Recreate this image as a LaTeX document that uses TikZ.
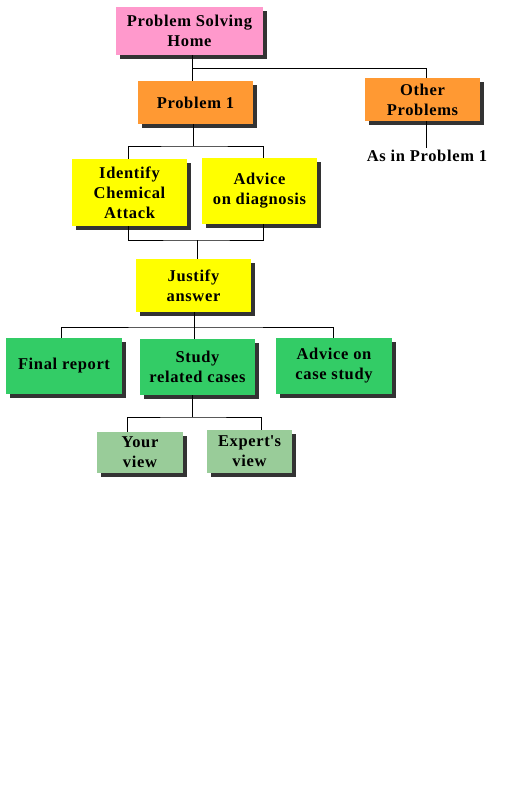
\documentclass[tikz,border=0pt]{standalone}
\usepackage{fontspec}
\setmainfont{Liberation Serif}[LetterSpace=4]
\usetikzlibrary{shadows}
\definecolor{homepink}{RGB}{255,153,204}
\definecolor{proborange}{RGB}{255,153,51}
\definecolor{taskyellow}{RGB}{255,255,0}
\definecolor{casegreen}{RGB}{51,204,102}
\definecolor{viewgreen}{RGB}{153,204,153}
\tikzset{
  wire/.style={black,line width=0.8pt},
  card/.style={fill=taskyellow,inner sep=3pt,align=center,
               font=\fontsize{16.5}{20}\selectfont\bfseries,
               drop shadow={shadow xshift=4pt,shadow yshift=-4pt,fill=black!80,opacity=1}},
  homecard/.style={card,fill=homepink},
  probcard/.style={card,fill=proborange},
  taskcard/.style={card,fill=taskyellow},
  casecard/.style={card,fill=casegreen},
  viewcard/.style={card,fill=viewgreen},
  note/.style={font=\fontsize{16.5}{20}\selectfont\bfseries,inner sep=2pt},
}

\begin{document}
\begin{tikzpicture}[x=1pt,y=-1pt]
  \path[use as bounding box,fill=white] (0,0) rectangle (504,792);

  \node[homecard,minimum width=147pt,minimum height=48pt] (HOME) at (189.5,31)
    {Problem Solving\\Home};
  \node[probcard,minimum width=115pt,minimum height=43pt] (P1) at (195.5,102.5)
    {Problem 1};
  \node[probcard,minimum width=115pt,minimum height=43pt] (OTHER) at (422.5,99.5)
    {Other\\Problems};
  \node[note,anchor=north] (ASIN) at (427,148) {As in Problem 1};

  \node[taskcard,minimum width=115pt,minimum height=67pt] (IDENT) at (129.5,192.5)
    {Identify\\Chemical\\Attack};
  \node[taskcard,minimum width=115pt,minimum height=66pt] (DIAG) at (259.5,191)
    {Advice\\on diagnosis};
  \node[taskcard,minimum width=115pt,minimum height=53pt] (JUST) at (193.5,285.5)
    {Justify\\answer};

  \node[casecard,minimum width=116pt,minimum height=56pt] (FINAL) at (64,366)
    {Final report};
  \node[casecard,minimum width=115pt,minimum height=56pt] (STUDY) at (197.5,367)
    {Study\\related cases};
  \node[casecard,minimum width=116pt,minimum height=56pt] (CASE) at (334,366)
    {Advice on\\case study};

  \node[viewcard,minimum width=86pt,minimum height=41pt] (YOUR) at (140,452.5)
    {Your\\view};
  \node[viewcard,minimum width=85pt,minimum height=43pt] (EXPERT) at (249.5,451.5)
    {Expert\textquotesingle s\\view};

  % tree junctions
  \coordinate (J1) at (192,68);
  \coordinate (J2) at (193,146);
  \coordinate (J3) at (197,240);
  \coordinate (J4) at (194,327);
  \coordinate (J5) at (192,417);
  \coordinate (J6) at (426,148);

  \draw[wire] (J1 |- HOME.south) -- (J1 |- P1.north);
  \draw[wire] (J1) -| (J6 |- OTHER.north);
  \draw[wire] (J6 |- OTHER.south) -- (J6 |- ASIN.north);

  \draw[wire] (J2 |- P1.south) -- (J2);
  \draw[wire] ([xshift=-1.5pt]IDENT.north) |- (J2) -| ([xshift=3.5pt]DIAG.north);
  \draw[wire] ([xshift=-1.5pt]IDENT.south) |- (J3) -| ([xshift=3.5pt]DIAG.south);
  \draw[wire] (J3) -- (J3 |- JUST.north);

  \draw[wire] (J4 |- JUST.south) -- (J4 |- STUDY.north);
  \draw[wire] ([xshift=-3pt]FINAL.north) |- (J4) -| ([xshift=-1pt]CASE.north);

  \draw[wire] (J5 |- STUDY.south) -- (J5);
  \draw[wire] ([xshift=-13pt]YOUR.north) |- (J5) -| ([xshift=11.5pt]EXPERT.north);
\end{tikzpicture}
\end{document}
